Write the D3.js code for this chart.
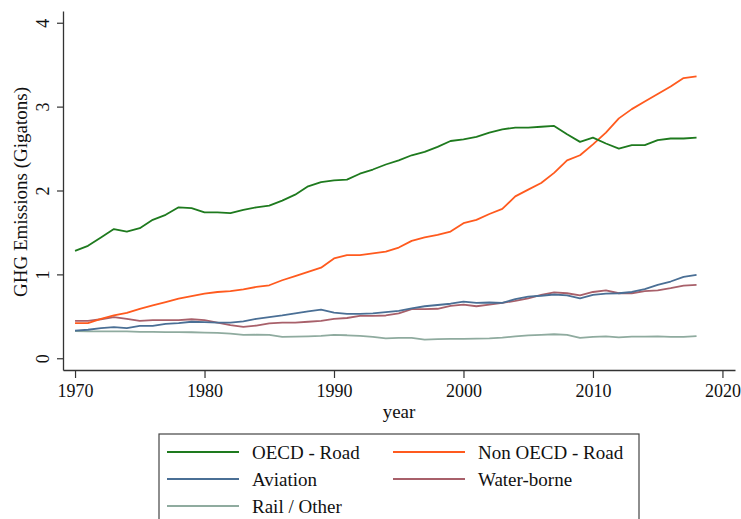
<!DOCTYPE html>
<html lang="en">
<head>
  <meta charset="UTF-8">
  <title>GHG Emissions by Transport Mode</title>
  <script src="https://d3js.org/d3.v7.min.js"></script>
  <style>
    body {
      margin: 0;
      background-color: #ffffff;
    }
  </style>
</head>
<body>
  <div id="chart"></div>

  <script>
    const years = d3.range(1970, 2019);

    const oecdRoad = [1.28, 1.34, 1.44, 1.54, 1.51, 1.55, 1.65, 1.71, 1.80, 1.79,
      1.74, 1.74, 1.73, 1.77, 1.80, 1.82, 1.88, 1.95, 2.05, 2.10,
      2.12, 2.13, 2.20, 2.25, 2.31, 2.36, 2.42, 2.46, 2.52, 2.59,
      2.61, 2.64, 2.69, 2.73, 2.75, 2.75, 2.76, 2.77, 2.67, 2.58,
      2.63, 2.56, 2.50, 2.54, 2.54, 2.60, 2.62, 2.62, 2.63];

    const nonOecdRoad = [0.42, 0.42, 0.47, 0.51, 0.54, 0.59, 0.63, 0.67, 0.71, 0.74,
      0.77, 0.79, 0.80, 0.82, 0.85, 0.87, 0.93, 0.98, 1.03, 1.08,
      1.19, 1.23, 1.23, 1.25, 1.27, 1.32, 1.40, 1.44, 1.47, 1.51,
      1.61, 1.65, 1.72, 1.78, 1.93, 2.01, 2.09, 2.21, 2.36, 2.42,
      2.55, 2.69, 2.86, 2.97, 3.06, 3.15, 3.24, 3.34, 3.36];

    const aviation = [0.33, 0.34, 0.36, 0.37, 0.36, 0.385, 0.385, 0.41, 0.42, 0.435,
      0.43, 0.425, 0.425, 0.44, 0.47, 0.49, 0.51, 0.535, 0.56, 0.58,
      0.545, 0.53, 0.53, 0.535, 0.55, 0.565, 0.595, 0.62, 0.635, 0.65,
      0.675, 0.66, 0.665, 0.66, 0.705, 0.735, 0.745, 0.76, 0.75, 0.715,
      0.755, 0.77, 0.775, 0.79, 0.825, 0.875, 0.915, 0.97, 0.995];

    const waterBorne = [0.445, 0.445, 0.465, 0.49, 0.47, 0.445, 0.455, 0.455, 0.455, 0.465,
      0.455, 0.425, 0.395, 0.375, 0.39, 0.415, 0.425, 0.425, 0.435, 0.445,
      0.47, 0.48, 0.505, 0.505, 0.51, 0.535, 0.585, 0.585, 0.59, 0.625,
      0.64, 0.62, 0.64, 0.66, 0.685, 0.715, 0.755, 0.785, 0.775, 0.75,
      0.79, 0.81, 0.775, 0.775, 0.8, 0.81, 0.835, 0.865, 0.875];

    const railOther = [0.325, 0.32, 0.32, 0.32, 0.32, 0.315, 0.315, 0.312, 0.312, 0.31,
      0.305, 0.302, 0.293, 0.278, 0.28, 0.278, 0.255, 0.258, 0.262, 0.266,
      0.278, 0.274, 0.266, 0.256, 0.236, 0.242, 0.242, 0.222, 0.228, 0.23,
      0.23, 0.234, 0.238, 0.246, 0.26, 0.272, 0.278, 0.286, 0.278, 0.242,
      0.254, 0.262, 0.25, 0.258, 0.258, 0.262, 0.254, 0.254, 0.265];

    const seriesNames = ["OECD - Road", "Non OECD - Road", "Aviation", "Water-borne", "Rail / Other"];
    const seriesColors = ["#1e7a1e", "#ff5a1e", "#4a6f95", "#a8606a", "#8fab9f"];
    const seriesValues = [oecdRoad, nonOecdRoad, aviation, waterBorne, railOther];

    const xTicks = [1970, 1980, 1990, 2000, 2010, 2020];
    const yTicks = [0, 1, 2, 3, 4];

    const serif = "'Liberation Serif', 'Times New Roman', Times, serif";

    const width = 741, height = 519;
    const svg = d3.select("#chart").append("svg").attr("width", width).attr("height", height)
      .style("font-family", serif);

    const x = d3.scaleLinear().domain([1969.07, 2020.97]).range([63, 735]);
    const y = d3.scaleLinear().domain([-0.14, 4.14]).range([370, 11]);

    // axes
    const xAxis = svg.append("g").attr("transform", "translate(0,370)")
      .call(d3.axisBottom(x).tickValues(xTicks).tickFormat(d3.format("d")).tickSize(8).tickSizeOuter(0).tickPadding(6));
    xAxis.attr("font-family", null);
    xAxis.select(".domain").attr("stroke", "#333").attr("stroke-width", 1.3);
    xAxis.selectAll(".tick line").attr("stroke", "#333").attr("stroke-width", 1.2);
    xAxis.selectAll(".tick text").style("font-family", serif).style("font-size", "18px").attr("fill", "#111");

    const yAxis = svg.append("g").attr("transform", "translate(63,0)")
      .call(d3.axisLeft(y).tickValues(yTicks).tickSize(6).tickSizeOuter(0).tickFormat(d3.format("d")));
    yAxis.attr("font-family", null);
    yAxis.select(".domain").attr("stroke", "#333").attr("stroke-width", 1.3);
    yAxis.selectAll(".tick line").attr("stroke", "#333").attr("stroke-width", 1.2);
    yAxis.selectAll(".tick text")
      .attr("x", 0).attr("dy", null)
      .attr("transform", "translate(-14,0) rotate(-90)")
      .attr("text-anchor", "middle")
      .style("font-family", serif).style("font-size", "18px").attr("fill", "#111");

    svg.append("text").attr("x", 399).attr("y", 418).attr("text-anchor", "middle")
      .style("font-family", serif).style("font-size", "19px").attr("fill", "#111").text("year");

    svg.append("text").attr("transform", "translate(27,192) rotate(-90)").attr("text-anchor", "middle")
      .style("font-family", serif).style("font-size", "19px").attr("fill", "#111").text("GHG Emissions (Gigatons)");

    // lines
    const line = d3.line().x((d, i) => x(years[i])).y(d => y(d));
    seriesValues.slice().reverse().forEach((vals, j) => {
      const i = seriesValues.length - 1 - j;
      svg.append("path").datum(vals)
        .attr("d", line)
        .attr("fill", "none")
        .attr("stroke", seriesColors[i])
        .attr("stroke-width", 1.8)
        .attr("stroke-linejoin", "round");
    });

    // legend
    const legend = svg.append("g");
    legend.append("rect").attr("x", 159).attr("y", 434).attr("width", 480).attr("height", 100)
      .attr("fill", "#fff").attr("stroke", "#444").attr("stroke-width", 1.2);
    seriesNames.forEach((name, i) => {
      const col = i % 2, row = Math.floor(i / 2);
      const lx = col === 0 ? 167 : 393;
      const ly = 452 + row * 27;
      legend.append("line").attr("x1", lx).attr("x2", lx + 72).attr("y1", ly).attr("y2", ly)
        .attr("stroke", seriesColors[i]).attr("stroke-width", 2);
      legend.append("text").attr("x", lx + 85).attr("y", ly).attr("dy", "0.35em")
        .style("font-family", serif).style("font-size", "19px").attr("fill", "#111").text(name);
    });
  </script>
</body>
</html>
